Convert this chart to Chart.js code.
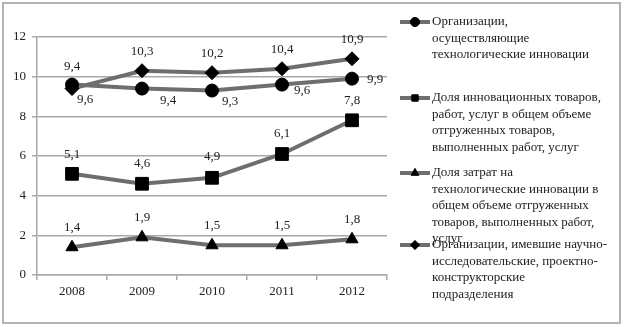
<!DOCTYPE html>
<html>
<head>
<meta charset="utf-8">
<script src="https://cdn.jsdelivr.net/npm/chart.js@4.4.0/dist/chart.umd.min.js"></script>
<style>
  html, body { margin: 0; padding: 0; background: #fff; }
  #wrap { width: 625px; height: 327px; }
</style>
</head>
<body>
<div id="wrap"><canvas id="chart" width="625" height="327"></canvas></div>
<script>
// ------------------------------------------------------------
//  Данные
// ------------------------------------------------------------
const years = ['2008', '2009', '2010', '2011', '2012'];
const orgInnov = [9.6, 9.4, 9.3, 9.6, 9.9];     // кружки
const shareGoods = [5.1, 4.6, 4.9, 6.1, 7.8];   // квадраты
const shareCosts = [1.4, 1.9, 1.5, 1.5, 1.8];   // треугольники
const orgRnd = [9.4, 10.3, 10.2, 10.4, 10.9];   // ромбы

const legendLabels = [
    ['Организации,', 'осуществляющие', 'технологические инновации'],
    ['Доля инновационных товаров,', 'работ, услуг в общем объеме', 'отгруженных товаров,', 'выполненных работ, услуг'],
    ['Доля затрат на', 'технологические инновации в', 'общем объеме отгруженных', 'товаров, выполненных работ,', 'услуг'],
    ['Организации, имевшие научно-', 'исследовательские, проектно-', 'конструкторские', 'подразделения']
];

const FONT = '"Liberation Serif", "Times New Roman", serif';
const LINE = '#6e6e6e';
const TEXT = '#222';

function ds(data, style, radius, labelDx, labelDy) {
    return {
        data,
        pointStyle: style,
        pointRadius: radius,
        pointHoverRadius: radius,
        borderColor: LINE,
        borderWidth: 4,
        pointBackgroundColor: '#000',
        pointBorderColor: '#000',
        pointBorderWidth: 1,
        tension: 0,
        labelDx, labelDy
    };
}

// подписи значений
const valueLabels = {
    id: 'valueLabels',
    afterDatasetsDraw(chart) {
        const ctx = chart.ctx;
        ctx.save();
        ctx.font = '13px ' + FONT;
        ctx.fillStyle = TEXT;
        ctx.textAlign = 'center';
        ctx.textBaseline = 'middle';
        chart.data.datasets.forEach((d, i) => {
            chart.getDatasetMeta(i).data.forEach((pt, j) => {
                const txt = d.data[j].toFixed(1).replace('.', ',');
                ctx.fillText(txt, pt.x + d.labelDx[j], pt.y + d.labelDy[j]);
            });
        });
        ctx.restore();
    }
};

// легенда справа, многострочная
const sideLegend = {
    id: 'sideLegend',
    afterDraw(chart) {
        const ctx = chart.ctx;
        const tops = [22, 98, 173, 245];
        const step = 16.5;
        ctx.save();
        chart.data.datasets.forEach((d, i) => {
            const y = tops[i];
            ctx.strokeStyle = LINE;
            ctx.lineWidth = 4;
            ctx.beginPath();
            ctx.moveTo(400, y);
            ctx.lineTo(430, y);
            ctx.stroke();
            ctx.fillStyle = '#000';
            ctx.strokeStyle = '#000';
            ctx.lineWidth = 1;
            Chart.helpers.drawPoint(ctx, { pointStyle: d.pointStyle, radius: 4.5, borderWidth: 1 }, 415, y);
            ctx.fill();
            ctx.font = '13px ' + FONT;
            ctx.fillStyle = TEXT;
            ctx.textAlign = 'left';
            ctx.textBaseline = 'middle';
            legendLabels[i].forEach((line, k) => ctx.fillText(line, 432, y + k * step));
        });
        // рамка
        ctx.strokeStyle = '#b4b4b4';
        ctx.lineWidth = 2;
        ctx.strokeRect(3, 3, 617, 320);
        ctx.restore();
    }
};

new Chart(document.getElementById('chart'), {
    type: 'line',
    data: {
        labels: years,
        datasets: [
            ds(orgInnov, 'circle', 6.5, [13, 26, 18, 20, 23], [15, 12, 11, 6, 1]),
            ds(shareGoods, 'rect', 9, [0, 0, 0, 0, 0], [-19, -20, -21, -20, -20]),
            ds(shareCosts, 'triangle', 7, [0, 0, 0, 0, 0], [-20, -20, -20, -20, -20]),
            ds(orgRnd, 'rectRot', 7, [0, 0, 0, 0, 0], [-22, -19, -19, -19, -19])
        ]
    },
    options: {
        responsive: false,
        animation: false,
        layout: { padding: { left: 0, top: 37, right: 238, bottom: 0 } },
        plugins: { legend: { display: false }, tooltip: { enabled: false } },
        scales: {
            x: {
                offset: true,
                grid: { offset: true, drawOnChartArea: false, color: '#a8a8a8', lineWidth: 1.5, tickLength: 5 },
                border: { color: '#a8a8a8', width: 1.5 },
                ticks: { color: TEXT, font: { size: 13, family: FONT }, padding: 4 },
                afterFit(s) { s.height = 52; }
            },
            y: {
                min: 0,
                max: 12,
                ticks: { stepSize: 2, color: TEXT, font: { size: 13, family: FONT }, padding: 6 },
                grid: { color: '#a8a8a8', lineWidth: 1.5, tickLength: 5 },
                border: { color: '#a8a8a8', width: 1.5 },
                afterFit(s) { s.width = 37; }
            }
        }
    },
    plugins: [valueLabels, sideLegend]
});
</script>
</body>
</html>
